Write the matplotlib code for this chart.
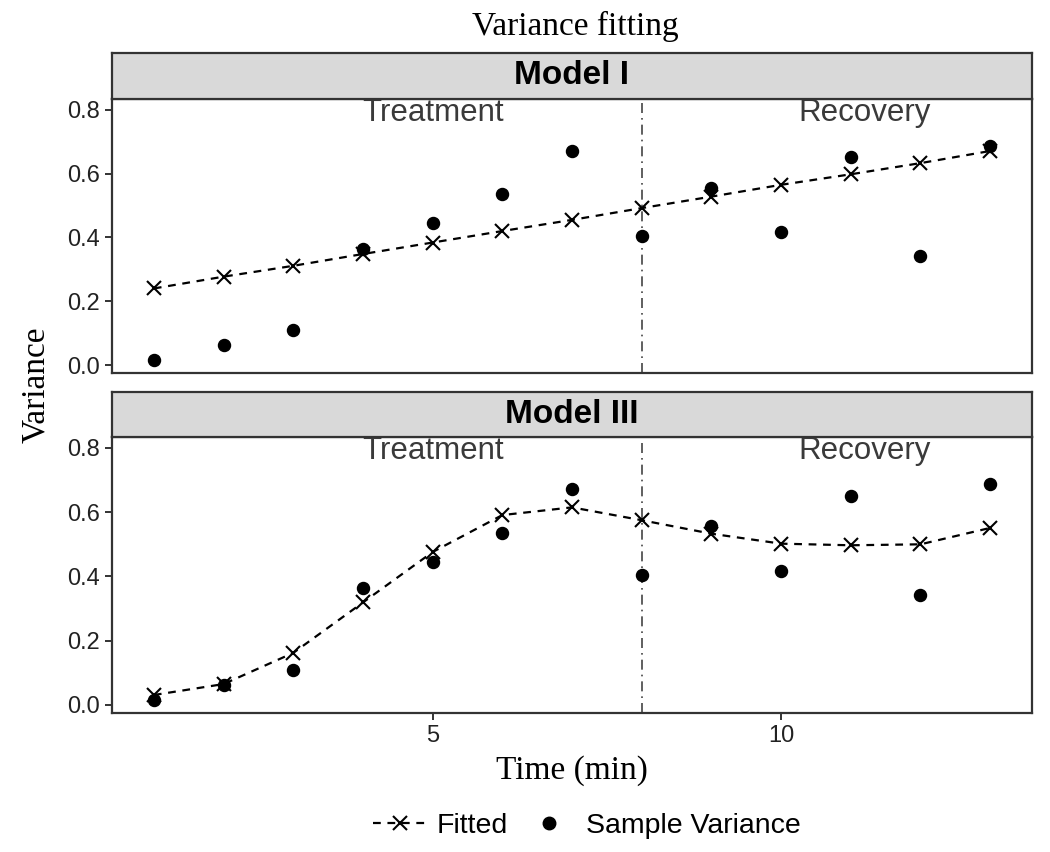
import numpy as np
import matplotlib
matplotlib.use('Agg')
import matplotlib.pyplot as plt
from matplotlib.lines import Line2D

# data
time_min = [1, 2, 3, 4, 5, 6, 7, 8, 9, 10, 11, 12, 13]
sample_var = [0.015, 0.062, 0.11, 0.364, 0.445, 0.535, 0.672, 0.405,
              0.556, 0.418, 0.651, 0.343, 0.687]
fitted_model1 = [0.24, 0.277, 0.311, 0.348, 0.384, 0.42, 0.455, 0.492,
                 0.528, 0.565, 0.598, 0.633, 0.671]
fitted_model3 = [0.031, 0.065, 0.162, 0.319, 0.476, 0.591, 0.615, 0.575,
                 0.533, 0.502, 0.497, 0.50, 0.551]
panel_names = ['Model I', 'Model III']
phase_labels = ['Treatment', 'Recovery']
phase_x = [5, 11.2]
phase_split = 8
y_ticks = [0.0, 0.2, 0.4, 0.6, 0.8]
x_ticks = [5, 10]

W, H = 1050, 852
fig = plt.figure(figsize=(W / 100, H / 100), dpi=100)

SANS = 'Liberation Sans'
SERIF = 'Liberation Serif'
edge = '#333333'


def fx(px):
    return px / W


def fy(py):
    return 1 - py / H


left, right = 112, 1032
panels = [(99, 373, 53), (437, 713, 392)]
fits = [fitted_model1, fitted_model3]

for i, (top, bot, stop) in enumerate(panels):
    ax = fig.add_axes([fx(left), fy(bot), fx(right - left), (bot - top) / H])
    ax.plot(time_min, fits[i], color='black', linestyle=(0, (3.5, 3)),
            linewidth=1.6, marker='x', markersize=10, markeredgewidth=1.5)
    ax.scatter(time_min, sample_var, s=75, color='black', zorder=3)
    ax.axvline(phase_split, color='#444444', linestyle=(0, (6, 3, 1, 3)),
               linewidth=1.2)
    for lab, xx in zip(phase_labels, phase_x):
        ax.text(xx, 0.79, lab, ha='center', va='center', fontsize=22.5,
                family=SANS, color='#3a3a3a')
    ax.set_xlim(0.4, 13.6)
    ax.set_ylim(-0.025, 0.834)
    ax.set_yticks(y_ticks)
    ax.set_yticklabels([f'{v:.1f}' for v in y_ticks])
    if i == 0:
        ax.set_xticks([])
    else:
        ax.set_xticks(x_ticks)
    for s in ax.spines.values():
        s.set_color(edge)
        s.set_linewidth(1.6)
    ax.tick_params(colors=edge, length=5, width=1.4, labelsize=17,
                   labelcolor='#222222')
    for t in ax.get_xticklabels() + ax.get_yticklabels():
        t.set_family(SANS)

    # facet strip
    sax = fig.add_axes([fx(left), fy(top), fx(right - left), (top - stop) / H])
    sax.set_facecolor('#D9D9D9')
    sax.set_xticks([])
    sax.set_yticks([])
    for s in sax.spines.values():
        s.set_color(edge)
        s.set_linewidth(1.6)
    sax.text(0.5, 0.5, panel_names[i], transform=sax.transAxes, ha='center',
             va='center', fontsize=24, fontweight='bold', family=SANS)

fig.text(fx(575), fy(26), 'Variance fitting', ha='center', va='center',
         fontsize=24, family=SERIF)
fig.text(fx(572), fy(771), 'Time (min)', ha='center', va='center',
         fontsize=24, family=SERIF)
fig.text(fx(36), fy(385), 'Variance', ha='center', va='center',
         fontsize=24, family=SERIF, rotation=90)

handles = [
    Line2D([], [], color='black', linestyle=(0, (3.5, 3)), linewidth=1.6,
           marker='x', markersize=10, markeredgewidth=1.5),
    Line2D([], [], color='black', linestyle='none', marker='o', markersize=9),
]
fig.legend(handles, ['Fitted', 'Sample Variance'], loc='center',
           bbox_to_anchor=(fx(587), fy(826)), ncol=2, frameon=False,
           prop={'family': SANS, 'size': 20.5}, handlelength=1.9,
           handletextpad=0.35, columnspacing=0.5)

fig.savefig('out.png', dpi=100)
